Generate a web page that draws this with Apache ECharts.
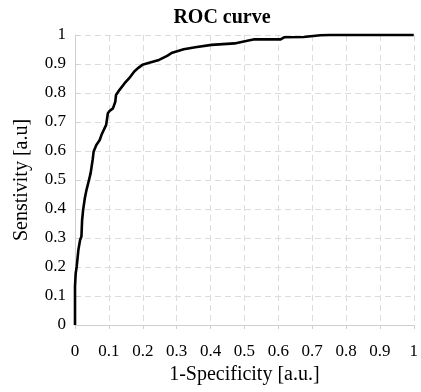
<!DOCTYPE html>
<html>
<head>
<meta charset="utf-8">
<script src="https://cdn.jsdelivr.net/npm/echarts@6/dist/echarts.min.js"></script>
<style>html,body{margin:0;padding:0;background:#fff;}#c{width:421px;height:392px;}</style>
</head>
<body>
<div id="c"></div>
<script>
var fpr = [0,0,0.002,0.005,0.010,0.015,0.019,0.021,0.024,0.029,0.034,0.039,0.046,0.052,0.055,0.063,0.073,0.078,0.092,0.097,0.102,0.112,0.119,0.121,0.131,0.146,0.160,0.175,0.185,0.199,0.219,0.248,0.272,0.287,0.321,0.355,0.403,0.471,0.505,0.530,0.607,0.617,0.675,0.724,0.752,1.0];
var tpr = [0,0.132,0.178,0.201,0.259,0.293,0.305,0.362,0.397,0.437,0.466,0.489,0.523,0.569,0.598,0.621,0.638,0.655,0.690,0.730,0.738,0.747,0.770,0.793,0.810,0.833,0.851,0.874,0.885,0.897,0.904,0.914,0.928,0.939,0.951,0.958,0.966,0.971,0.979,0.985,0.985,0.992,0.993,0.999,1.0,1.0];
var titleText = 'ROC curve';
var xName = '1-Specificity [a.u.]';
var yName = 'Senstivity [a.u]';

var pts = fpr.map(function(x, i){ return [x, tpr[i]]; });
var font = 'Liberation Serif';
var chart = echarts.init(document.getElementById('c'), null, {renderer:'canvas'});
var fmt = function(v){ return (Math.round(v*10)/10).toString(); };
chart.setOption({
  animation: false,
  backgroundColor: '#fff',
  title: {
    text: titleText, left: 217, top: 3, textAlign: 'center',
    textStyle: {fontFamily: font, fontSize: 20, fontWeight: 'bold', color: '#000'}
  },
  grid: {left: 75, right: 3, top: 35, bottom: 67, containLabel: false},
  xAxis: {
    type: 'value', min: 0, max: 1, interval: 0.1,
    name: xName, nameLocation: 'middle', nameGap: 38,
    nameTextStyle: {fontFamily: font, fontSize: 20, color: '#000'},
    axisLine: {show: true, lineStyle: {color: '#cfcfcf', width: 1}},
    axisTick: {show: true, inside: false, length: 4, lineStyle: {color: '#cfcfcf'}},
    axisLabel: {fontFamily: font, fontSize: 17, color: '#000', margin: 18, formatter: fmt},
    splitLine: {show: true, lineStyle: {color: '#dcdcdc', type: [6, 4], width: 1}}
  },
  yAxis: {
    type: 'value', min: 0, max: 1, interval: 0.1,
    name: yName, nameLocation: 'middle', nameGap: 43, nameRotate: 90,
    nameTextStyle: {fontFamily: font, fontSize: 20, color: '#000'},
    axisLine: {show: true, lineStyle: {color: '#cfcfcf', width: 1}},
    axisTick: {show: true, inside: true, length: 4, lineStyle: {color: '#cfcfcf'}},
    axisLabel: {fontFamily: font, fontSize: 17, color: '#000', margin: 9, formatter: fmt},
    splitLine: {show: true, lineStyle: {color: '#dcdcdc', type: [6, 4], width: 1}}
  },
  series: [{
    type: 'line', data: pts, showSymbol: false, symbol: 'none',
    lineStyle: {color: '#000', width: 2.6}, clip: false
  }]
});
</script>
</body>
</html>
